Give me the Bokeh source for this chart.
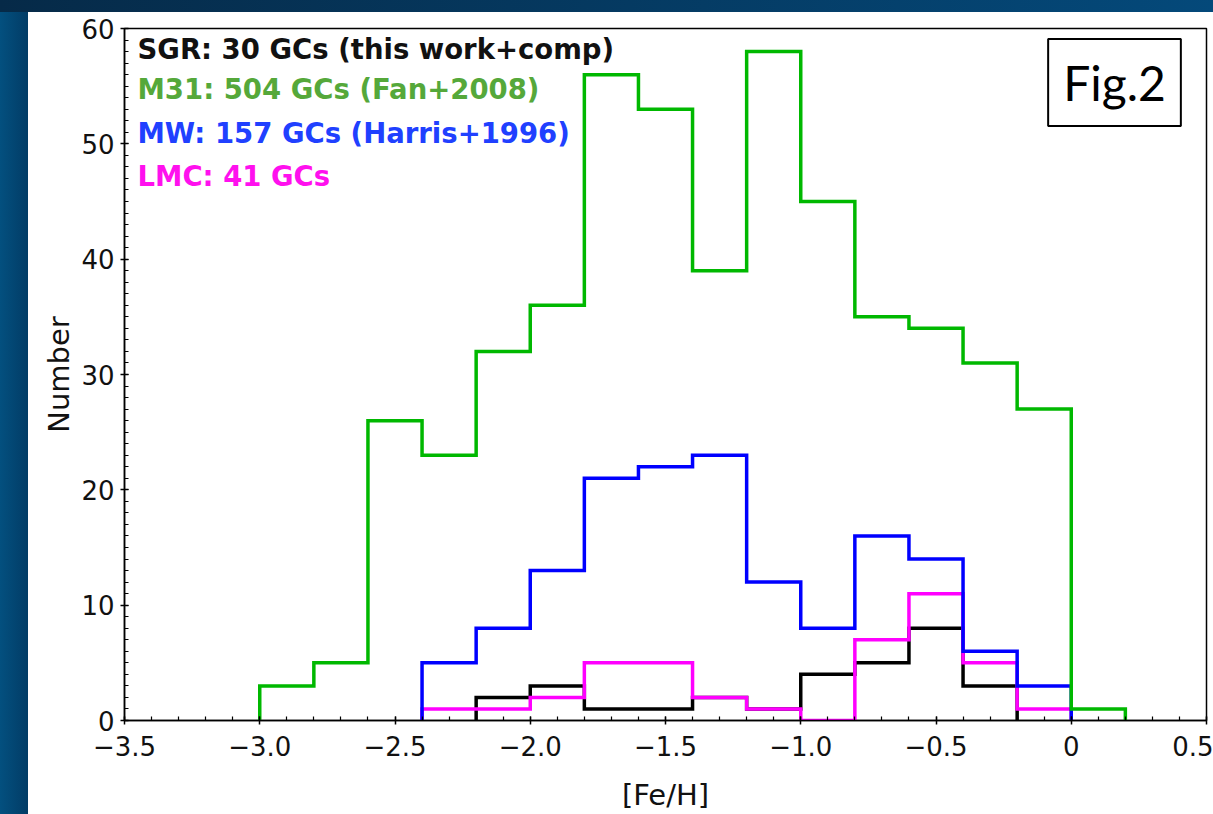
from bokeh.plotting import figure
from bokeh.models import (SingleIntervalTicker, CustomJSTickFormatter, Label, Div)
from bokeh.layouts import column, row
from bokeh.embed import file_html
from bokeh.resources import INLINE

# ---- data ----
bin_edges = [-3.0, -2.8, -2.6, -2.4, -2.2, -2.0, -1.8, -1.6, -1.4, -1.2,
             -1.0, -0.8, -0.6, -0.4, -0.2, 0.0, 0.2]
m31_counts = [3, 5, 26, 23, 32, 36, 56, 53, 39, 58, 45, 35, 34, 31, 27, 1]
mw_counts = [0, 0, 0, 5, 8, 13, 21, 22, 23, 12, 8, 16, 14, 6, 3, 0]
sgr_counts = [0, 0, 0, 0, 2, 3, 1, 1, 2, 1, 4, 5, 8, 3, 0, 0]
lmc_counts = [0, 0, 0, 1, 1, 2, 5, 5, 2, 1, 0, 7, 11, 5, 1, 0]

legend_texts = ["SGR: 30 GCs (this work+comp)",
                "M31: 504 GCs (Fan+2008)",
                "MW: 157 GCs (Harris+1996)",
                "LMC: 41 GCs"]
legend_colors = ["#111111", "#55a83a", "#2040ff", "#ff10ee"]

FONT = "DejaVu Sans"


def outline(counts):
    nz = [i for i, c in enumerate(counts) if c > 0]
    i0, i1 = nz[0], nz[-1]
    xs, ys = [bin_edges[i0]], [0]
    for i in range(i0, i1 + 1):
        xs += [bin_edges[i], bin_edges[i + 1]]
        ys += [counts[i], counts[i]]
    xs.append(bin_edges[i1 + 1])
    ys.append(0)
    return xs, ys


p = figure(width=1185, height=802, x_range=(-3.5, 0.5), y_range=(0, 60),
           output_backend="svg", toolbar_location=None,
           min_border_left=96, min_border_right=7, min_border_top=16,
           min_border_bottom=94)
p.xgrid.visible = False
p.ygrid.visible = False
p.background_fill_color = "white"
p.border_fill_color = "white"
p.outline_line_color = "black"
p.outline_line_width = 1.5

for counts, color in [(sgr_counts, "black"), (lmc_counts, "#ff00ff"),
                      (mw_counts, "#0000ff"), (m31_counts, "#00b800")]:
    xs, ys = outline(counts)
    p.line(xs, ys, line_color=color, line_width=3.5, line_join="miter")

# axes
p.xaxis.ticker = SingleIntervalTicker(interval=0.5, num_minor_ticks=5)
p.yaxis.ticker = SingleIntervalTicker(interval=10, num_minor_ticks=10)
p.xaxis.formatter = CustomJSTickFormatter(
    code="return Math.abs(tick) < 1e-9 ? '0' : tick.toFixed(1).replace('-', '\u2212');")

for ax in (p.xaxis[0], p.yaxis[0]):
    ax.axis_line_color = "black"
    ax.axis_line_width = 1.5
    ax.major_tick_line_color = "black"
    ax.major_tick_line_width = 1.5
    ax.minor_tick_line_color = "black"
    ax.minor_tick_line_width = 1.2
    ax.major_tick_in = 4
    ax.major_tick_out = 4
    ax.minor_tick_in = 4
    ax.minor_tick_out = 0
    ax.major_label_text_font = FONT
    ax.major_label_text_font_size = "26px"
    ax.major_label_text_color = "#111111"
    ax.axis_label_text_font = FONT
    ax.axis_label_text_font_size = "29px"
    ax.axis_label_text_font_style = "normal"
    ax.axis_label_text_color = "#111111"

p.xaxis.axis_label = "[Fe/H]"
p.yaxis.axis_label = "Number"
p.xaxis.major_label_standoff = 11
p.yaxis.major_label_standoff = 6
p.xaxis.axis_label_standoff = 19
p.yaxis.axis_label_standoff = 2

# legend texts
ys_screen = [672, 632, 588, 545]
for txt, col, yy in zip(legend_texts, legend_colors, ys_screen):
    p.add_layout(Label(x=13, y=yy, x_units="screen", y_units="screen", text=txt,
                       text_color=col, text_font=FONT, text_font_size="27.5px",
                       text_font_style="bold", text_baseline="middle",
                       text_align="left"))

p.add_layout(Label(x=990, y=638, x_units="screen", y_units="screen", text="Fig.2",
                   text_font="Lato", text_font_size="48px",
                   text_color="black", text_align="center", text_baseline="middle",
                   border_line_color="black", border_line_width=2,
                   background_fill_color="white", padding=15))

top_strip = Div(text="", width=1213, height=12, margin=0,
                styles={"background": "linear-gradient(to right, #062a48, #04497a)"})
left_strip = Div(text="", width=28, height=802, margin=0,
                 styles={"background": "linear-gradient(to right, #03507f, #023c66)"})

layout = column(top_strip, row(left_strip, p, spacing=0), spacing=0)

open("out.html", "w").write(file_html(layout, INLINE))
